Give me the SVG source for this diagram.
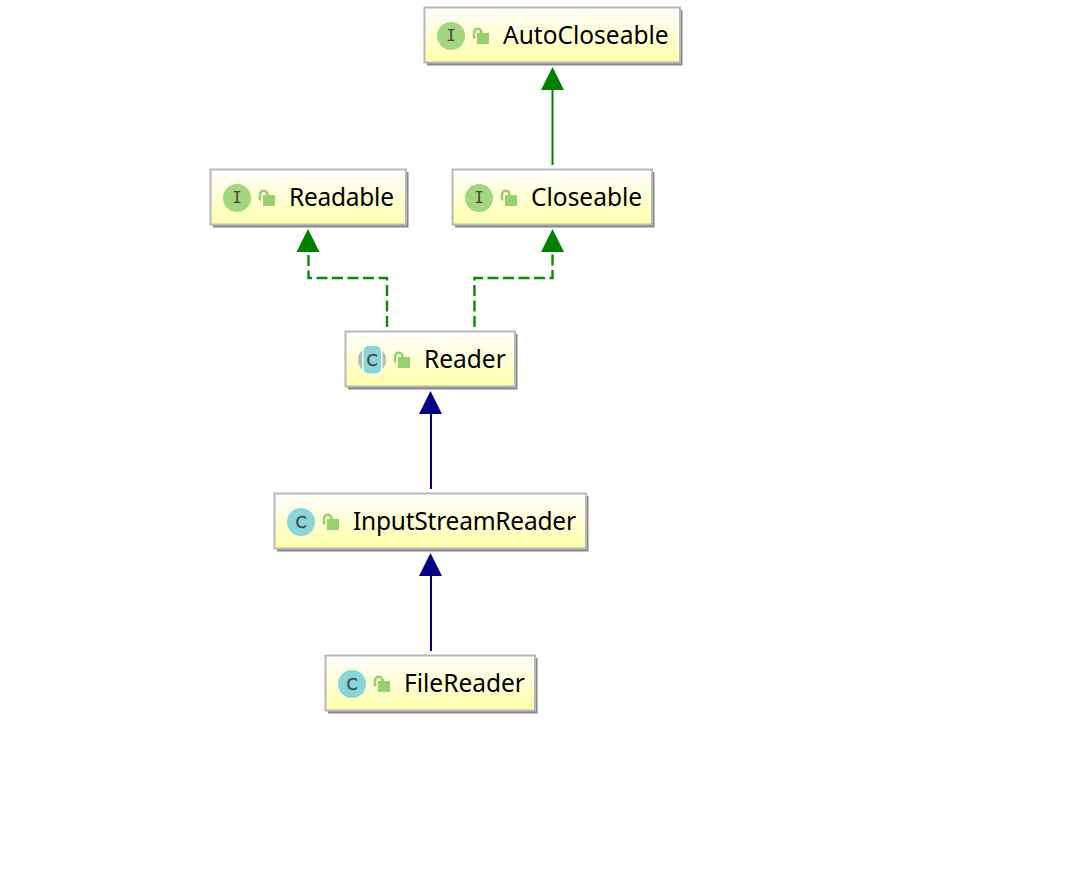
<svg xmlns="http://www.w3.org/2000/svg" width="1076" height="882" viewBox="0 0 1076 882">
<style>
.shadow{fill:#888888}
.box{fill:url(#fill);stroke:#b8b8b8;stroke-width:2}
.label{font-family:"Noto Sans","Open Sans",sans-serif;font-size:24.5px;fill:#000000}
.ci{fill:#a4d580}
.cc{fill:#8ad5d8}
.glyph{font-family:"DejaVu Sans Mono","Liberation Mono",monospace;font-size:16px;fill:#444444;text-anchor:middle}
.glyphc{font-family:"DejaVu Sans","Liberation Sans",sans-serif;font-size:16px;fill:#3f4a50;text-anchor:middle;stroke:#3f4a50;stroke-width:.4}
.lockb{fill:#98d070}
.locks{fill:none;stroke:#98d070;stroke-width:2.6}
.gs{fill:none;stroke:#008000;stroke-width:2}
.gd{fill:none;stroke:#0a8a0a;stroke-width:2.4;stroke-dasharray:11 4.500}
.bs{fill:none;stroke:#000080;stroke-width:2}
</style>
<defs>
<linearGradient id="fill" x1="0" y1="0" x2="0" y2="1"><stop offset="0" stop-color="#ffffff"/><stop offset="0.2" stop-color="#ffffee"/><stop offset="1" stop-color="#ffffaa"/></linearGradient>
<g id="lock"><rect class="lockb" x="0" y="-3" width="12" height="11"/><path class="locks" d="M-3 2.500V-3.500a3.500 3.500 0 0 1 7.500 0V-2"/></g>
</defs>
<rect width="1076" height="882" fill="#ffffff"/>
<g id="connectors">
<path class="gs" d="M552.500 165V88"/><polygon points="552.500,67 541,90 564,90" fill="#008000"/>
<path class="gd" d="M387 327V278H308.500V250"/><polygon points="308,229 296.500,252 319.500,252" fill="#008000"/>
<path class="gd" d="M474.500 327V278H552.500V250"/><polygon points="552.500,229 541,252 564,252" fill="#008000"/>
<path class="bs" d="M431 489V412"/><polygon points="430.500,391 419,414 442,414" fill="#000080"/>
<path class="bs" d="M431 651V574"/><polygon points="430.500,553 419,576 442,576" fill="#000080"/>
</g>
<g id="AutoCloseable"><rect class="shadow" x="427" y="10" width="255.500" height="55.500"/><rect class="box" x="424.500" y="7.500" width="255.500" height="55"/><circle class="ci" cx="451" cy="36" r="14"/><text class="glyph" x="451" y="41">I</text><use href="#lock" x="477" y="36"/><text class="label" x="503" y="44">AutoCloseable</text></g>
<g id="Readable"><rect class="shadow" x="213" y="172" width="195.500" height="55.500"/><rect class="box" x="210.500" y="169.500" width="195.500" height="55"/><circle class="ci" cx="237" cy="198" r="14"/><text class="glyph" x="237" y="203">I</text><use href="#lock" x="263" y="198"/><text class="label" x="289" y="206" textLength="105">Readable</text></g>
<g id="Closeable"><rect class="shadow" x="455" y="172" width="199.500" height="55.500"/><rect class="box" x="452.500" y="169.500" width="199.500" height="55"/><circle class="ci" cx="479" cy="198" r="14"/><text class="glyph" x="479" y="203">I</text><use href="#lock" x="505" y="198"/><text class="label" x="531" y="206">Closeable</text></g>
<g id="Reader"><rect class="shadow" x="348" y="334" width="169.500" height="55.500"/><rect class="box" x="345.500" y="331.500" width="169.500" height="55"/><circle cx="372" cy="360" r="14" fill="#b4bcbc"/><rect x="362" y="345" width="20.500" height="30" fill="#fffff0"/><rect class="cc" x="363.500" y="346" width="17.500" height="27.500" rx="5"/><text class="glyphc" x="372" y="366">C</text><use href="#lock" x="398" y="360"/><text class="label" x="424" y="368">Reader</text></g>
<g id="InputStreamReader"><rect class="shadow" x="277" y="496" width="311.500" height="55.500"/><rect class="box" x="274.500" y="493.500" width="311.500" height="55"/><circle class="cc" cx="301" cy="522" r="14"/><text class="glyphc" x="301" y="528">C</text><use href="#lock" x="327" y="522"/><text class="label" x="353" y="530" textLength="223">InputStreamReader</text></g>
<g id="FileReader"><rect class="shadow" x="328" y="658" width="209.500" height="55.500"/><rect class="box" x="325.500" y="655.500" width="209.500" height="55"/><circle class="cc" cx="352" cy="684" r="14"/><text class="glyphc" x="352" y="690">C</text><use href="#lock" x="378" y="684"/><text class="label" x="404" y="692">FileReader</text></g>
</svg>
